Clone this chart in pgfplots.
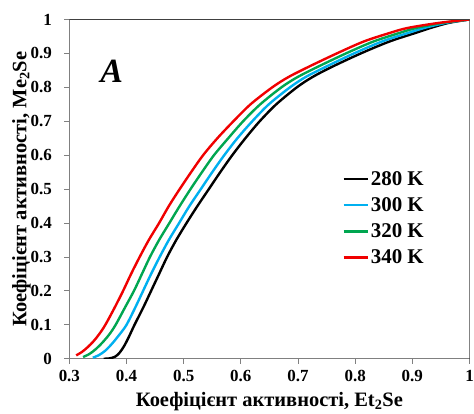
\documentclass[border=0pt]{standalone}
\usepackage{fontspec}
\setmainfont{Liberation Serif}
\usepackage{pgfplots}
\pgfplotsset{compat=1.18}

\definecolor{c280}{RGB}{0,0,0}
\definecolor{c300}{RGB}{0,176,240}
\definecolor{c320}{RGB}{0,166,80}
\definecolor{c340}{RGB}{240,0,0}

\begin{document}
\begin{tikzpicture}
\begin{axis}[
    name=ax,
    scale only axis,
    width=401pt, height=340pt,
    xmin=0.3, xmax=1, ymin=0, ymax=1,
    xtick={0.3,0.4,0.5,0.6,0.7,0.8,0.9,1},
    ytick={0,0.1,0.2,0.3,0.4,0.5,0.6,0.7,0.8,0.9,1},
    axis x line*=bottom, axis y line*=left,
    axis line style={draw=black!50, line width=0.8pt},
    tick align=outside,
    major tick length=5pt,
    tick style={draw=black!50, line width=0.8pt},
    /pgf/number format/assume math mode=true,
    tick label style={font=\fontsize{17}{17}\selectfont\bfseries},
    xticklabel style={yshift=-3pt},
    yticklabel style={xshift=-9pt},
    label style={font=\fontsize{20.5}{20.5}\selectfont\bfseries},
    xlabel={Коефіцієнт активності, Et\textsubscript{2}Se},
    ylabel={Коефіцієнт активності, Me\textsubscript{2}Se},
    xlabel style={at={(rel axis cs:0.5,0)}, anchor=center, yshift=-42.5pt},
    ylabel style={at={(rel axis cs:0,0.5)}, anchor=center, yshift=48pt},
    legend style={at={(0.682,0.559)}, anchor=north west, draw=none, fill=none,
        font=\fontsize{21}{21}\selectfont\bfseries, row sep=6.8pt,
        inner sep=0pt, cells={anchor=west}},
    legend image code/.code={\draw[#1, line width=2.4pt] (0pt,0pt) -- (24pt,0pt);},
    every axis plot/.append style={line width=2.4pt, line join=round, smooth, tension=0.5},
]
\addplot[c280] coordinates {
(0.360,0.000) (0.370,0.001) (0.380,0.006) (0.388,0.018) (0.396,0.038)
(0.404,0.064) (0.414,0.100) (0.429,0.150) (0.443,0.200) (0.457,0.250)
(0.471,0.300) (0.487,0.350) (0.505,0.400) (0.524,0.450) (0.544,0.500)
(0.564,0.550) (0.585,0.600) (0.608,0.650) (0.633,0.700) (0.662,0.750)
(0.698,0.800) (0.725,0.830) (0.759,0.860) (0.810,0.900) (0.860,0.935)
(0.905,0.960) (0.932,0.975) (0.964,0.990) (1.000,1.000)};
\addplot[c300] coordinates {
(0.341,0.003) (0.352,0.011) (0.363,0.024) (0.375,0.045) (0.388,0.072)
(0.400,0.100) (0.415,0.150) (0.429,0.200) (0.443,0.250) (0.458,0.300)
(0.474,0.350) (0.492,0.400) (0.510,0.450) (0.530,0.500) (0.550,0.550)
(0.571,0.600) (0.594,0.650) (0.620,0.700) (0.649,0.750) (0.686,0.800)
(0.713,0.830) (0.748,0.860) (0.798,0.900) (0.847,0.935) (0.892,0.960)
(0.921,0.975) (0.959,0.990) (1.000,1.000)};
\addplot[c320] coordinates {
(0.324,0.005) (0.335,0.014) (0.346,0.028) (0.358,0.048) (0.370,0.072)
(0.381,0.100) (0.397,0.150) (0.413,0.200) (0.427,0.250) (0.441,0.300)
(0.457,0.350) (0.475,0.400) (0.493,0.450) (0.512,0.500) (0.532,0.550)
(0.553,0.600) (0.578,0.650) (0.604,0.700) (0.634,0.750) (0.671,0.800)
(0.699,0.830) (0.734,0.860) (0.784,0.900) (0.832,0.935) (0.877,0.960)
(0.907,0.975) (0.953,0.990) (1.000,1.000)};
\addplot[c340] coordinates {
(0.312,0.010) (0.322,0.020) (0.332,0.034) (0.342,0.051) (0.352,0.072)
(0.363,0.100) (0.379,0.150) (0.394,0.200) (0.408,0.250) (0.423,0.300)
(0.439,0.350) (0.457,0.400) (0.474,0.450) (0.493,0.500) (0.513,0.550)
(0.534,0.600) (0.559,0.650) (0.587,0.700) (0.617,0.750) (0.655,0.800)
(0.683,0.830) (0.718,0.860) (0.768,0.900) (0.815,0.935) (0.860,0.960)
(0.892,0.975) (0.947,0.990) (1.000,1.000)};
\legend{280 K, 300 K, 320 K, 340 K}
\draw[black!75, line width=0.8pt] (rel axis cs:0,1) -- (rel axis cs:1,1) -- (rel axis cs:1,0);
\node[font=\fontsize{34}{34}\selectfont\bfseries\itshape] at (axis cs:0.374,0.846) {A};
\end{axis}
\pgfresetboundingbox
\path ([shift={(-69.5pt,-54.5pt)}]ax.south west) rectangle ([shift={(4.5pt,19.5pt)}]ax.north east);
\end{tikzpicture}
\end{document}
